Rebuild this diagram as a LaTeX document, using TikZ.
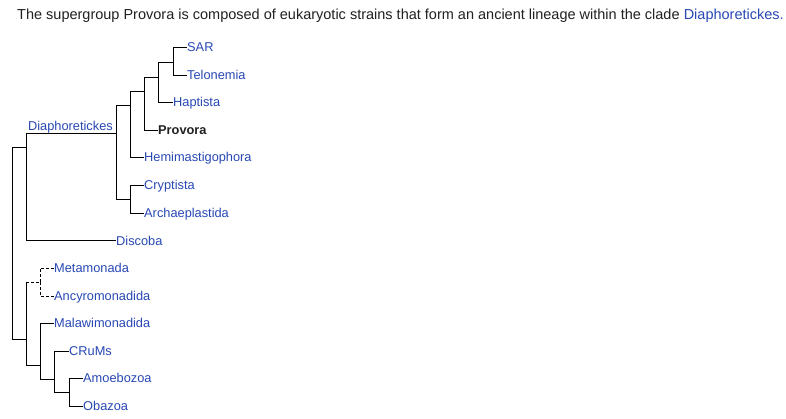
\documentclass[tikz,border=0pt]{standalone}
\usepackage{fontspec}
\setmainfont{Liberation Sans}
\definecolor{wlink}{RGB}{40,72,180}
\definecolor{wtext}{RGB}{32,33,34}
\tikzset{
  br/.style={line width=1pt, black},
  dbr/.style={br, dash pattern=on 3pt off 2pt},
  leaf/.style={anchor=west, inner sep=0pt, text height=9.3pt, text depth=0pt,
    font=\fontsize{12.8}{14}\selectfont, text=wlink},
}
\begin{document}
\begin{tikzpicture}[x=1pt,y=-1pt]
\useasboundingbox[fill=white] (0,0) rectangle (786,418);
% header
\node[anchor=base west, inner sep=0pt, font=\fontsize{14.5}{16}\selectfont, text=wtext] (hdr) at (17,19)
  {The supergroup Provora is composed of eukaryotic strains that form an ancient lineage within the clade \textcolor{wlink}{Diaphoretickes.}};
% leaves
\node[leaf] (sar) at (187,47) {SAR};
\node[leaf] (tel) at (187,75) {Telonemia};
\node[leaf] (hap) at (173,102) {Haptista};
\node[leaf, text=wtext, font=\fontsize{12.8}{14}\selectfont\bfseries] (pro) at (158,130) {Provora};
\node[leaf] (hem) at (144,157) {Hemimastigophora};
\node[leaf] (cry) at (144,185) {Cryptista};
\node[leaf] (arc) at (144,213) {Archaeplastida};
\node[leaf] (dis) at (116,240.5) {Discoba};
\node[leaf] (met) at (54,268) {Metamonada};
\node[leaf] (anc) at (54,296) {Ancyromonadida};
\node[leaf] (mal) at (54,323) {Malawimonadida};
\node[leaf] (cru) at (69,351) {CRuMs};
\node[leaf] (amo) at (83,378) {Amoebozoa};
\node[leaf] (oba) at (83,406) {Obazoa};
% internal nodes
\coordinate (n1) at (173,62);
\coordinate (n2) at (158,77);
\coordinate (n3) at (144,91);
\coordinate (n4) at (130,105);
\coordinate (n5) at (130,199);
\coordinate (dia) at (116,133);
\coordinate (n6) at (26,147);
\coordinate (root) at (12,147);
\coordinate (n7) at (26,339);
\coordinate (n8) at (40,282);
\coordinate (n9) at (40,365);
\coordinate (n10) at (54,379);
\coordinate (n11) at (69,392);
\node[anchor=base east, inner sep=0pt, font=\fontsize{12.8}{14}\selectfont, text=wlink] (diaL) at (113,130) {Diaphoretickes};
% branches
\draw[br] (n1) |- (sar.west);
\draw[br] (n1) |- (tel.west);
\draw[br] (n2) |- (n1);
\draw[br] (n2) |- (hap.west);
\draw[br] (n3) |- (n2);
\draw[br] (n3) |- (pro.west);
\draw[br] (n4) |- (n3);
\draw[br] (n4) |- (hem.west);
\draw[br] (n5) |- (cry.west);
\draw[br] (n5) |- (arc.west);
\draw[br] (dia) |- (n4);
\draw[br] (dia) |- (n5);
\draw[br] (n6) |- (dia);
\draw[br] (n6) |- (dis.west);
\draw[br] (root) |- (n6);
\draw[br] (root) |- (n7);
\draw[br] (n7) -- (n7 |- n8);
\draw[dbr] (n7 |- n8) -- (n8);
\draw[dbr] (n8) |- (met.west);
\draw[dbr] (n8) |- (anc.west);
\draw[br] (n7) |- (n9);
\draw[br] (n9) |- (mal.west);
\draw[br] (n9) |- (n10);
\draw[br] (n10) |- (cru.west);
\draw[br] (n10) |- (n11);
\draw[br] (n11) |- (amo.west);
\draw[br] (n11) |- (oba.west);
\end{tikzpicture}
\end{document}
